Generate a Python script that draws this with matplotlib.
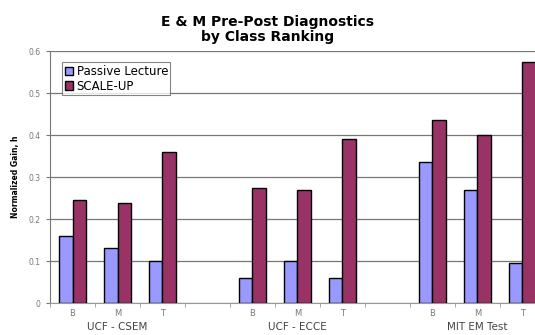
import matplotlib
matplotlib.use("Agg")
import matplotlib.pyplot as plt
from matplotlib.transforms import blended_transform_factory
import numpy as np

# category slots (blank slot between each group)
categories = ["B", "M", "T", "", "B", "M", "T", "", "B", "M", "T"]
groups = ["UCF - CSEM", "UCF - ECCE", "MIT EM Test"]
group_centers = [1, 5, 9]

passive = [0.16, 0.13, 0.10, None, 0.06, 0.10, 0.06, None, 0.335, 0.27, 0.095]
scaleup = [0.245, 0.237, 0.36, None, 0.275, 0.27, 0.39, None, 0.435, 0.40, 0.575]

yticks = [0, 0.1, 0.2, 0.3, 0.4, 0.5, 0.6]

fig = plt.figure(figsize=(5.35, 3.35), dpi=100)
ax = fig.add_axes([0.0935, 0.0955, 0.925, 0.752])

x = np.arange(len(categories))
w = 0.3
for i in x:
    if passive[i] is None:
        continue
    ax.bar(i - w / 2, passive[i], w, color="#9999ff", edgecolor="black",
           linewidth=1.0, zorder=3, label="Passive Lecture" if i == 0 else None)
    ax.bar(i + w / 2, scaleup[i], w, color="#993366", edgecolor="black",
           linewidth=1.0, zorder=3, label="SCALE-UP" if i == 0 else None)

ax.set_xlim(-0.5, len(categories) - 0.5)
ax.set_ylim(0, 0.6)
ax.set_yticks(yticks)
ax.set_yticklabels(["0", "0.1", "0.2", "0.3", "0.4", "0.5", "0.6"],
                   fontsize=5.5, color="#777777")
ax.yaxis.grid(True, color="#777777", linewidth=0.9, zorder=0)

ax.set_xticks(x)
ax.set_xticklabels(categories, fontsize=6, color="#777777")
ax.tick_params(axis="x", length=0, pad=4)
ax.set_xticks(np.arange(-0.5, len(categories), 1), minor=True)
ax.tick_params(axis="x", which="minor", length=3, color="#999999")
ax.tick_params(axis="y", length=3, color="#777777", pad=4)

for s in ["top", "right"]:
    ax.spines[s].set_visible(False)
ax.spines["left"].set_color("#777777")
ax.spines["bottom"].set_color("#999999")

trans = blended_transform_factory(ax.transData, ax.transAxes)
for name, c in zip(groups, group_centers):
    ax.text(c, -0.095, name, transform=trans, ha="center", va="center",
            fontsize=7.5, color="#444444")

ax.set_ylabel("Normalized Gain, h", fontsize=5.5, fontweight="bold", labelpad=6)

fig.text(0.5, 0.87, "E & M Pre-Post Diagnostics\nby Class Ranking",
         ha="center", va="bottom", fontsize=10, fontweight="bold",
         linespacing=1.05)

leg = ax.legend(loc="upper left", bbox_to_anchor=(0.025, 0.955), fontsize=8.5,
                frameon=True, fancybox=False, handlelength=0.7,
                handleheight=0.7, handletextpad=0.3, borderpad=0.2,
                labelspacing=0.15, borderaxespad=0)
leg.get_frame().set_edgecolor("#666666")
leg.get_frame().set_linewidth(0.8)

fig.savefig("out.png", dpi=100)
